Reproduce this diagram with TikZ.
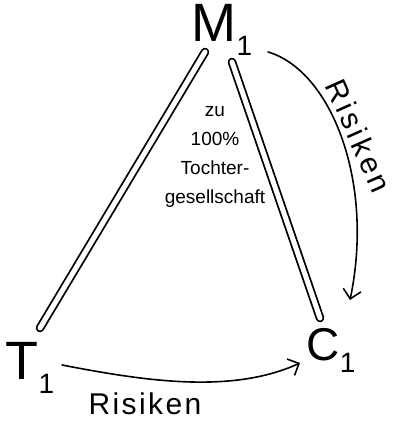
\documentclass[tikz,border=0pt]{standalone}
\usepackage{fontspec}
\setmainfont{Liberation Sans}
\usetikzlibrary{arrows.meta}
\begin{document}
\begin{tikzpicture}[x=1pt,y=-1pt,
  lbl/.style={inner sep=0pt},
  dbl/.style={double, double distance=5pt, line width=1.8pt, line cap=round},
  arr/.style={line width=1.6pt, line cap=round, -{Straight Barb[length=9pt,width=18pt,line width=1.6pt]}}]
\useasboundingbox (0,0) rectangle (394,430);
\node[lbl] (M) at (222,30) {\fontsize{54}{54}\selectfont M\raisebox{-14pt}{\fontsize{28}{28}\selectfont 1}};
\node[lbl] (T) at (30,368) {\fontsize{54}{54}\selectfont T\raisebox{-14pt}{\fontsize{28}{28}\selectfont 1}};
\node[lbl] (C) at (331,350) {\fontsize{46}{46}\selectfont C\raisebox{-12pt}{\fontsize{28}{28}\selectfont 1}};
\node[lbl, align=center, font=\fontsize{19}{29}\selectfont] (txt) at (215,157) {zu\\100\%\\Tochter-\\gesellschaft};
\coordinate (mL) at (205,52);
\coordinate (tR) at (40,328);
\coordinate (mR) at (232,62);
\coordinate (cT) at (320,318);
\coordinate (mA) at (268,52);
\coordinate (cA) at (350,300);
\coordinate (tA) at (62,365);
\coordinate (cB) at (300,363);
\draw[dbl] (mL) -- (tR);
\draw[dbl] (mR) -- (cT);
\draw[arr] (mA) .. controls (330,70) and (375,180) .. (cA);
\draw[arr] (tA) .. controls (140,380) and (230,395) .. (cB);
\node[lbl, rotate=-66] (r1) at (359,136) {\fontsize{30}{30}\selectfont\addfontfeature{LetterSpace=12}Risiken};
\node[lbl] (r2) at (145,404) {\fontsize{30}{30}\selectfont\addfontfeature{LetterSpace=8}Risiken};
\end{tikzpicture}
\end{document}
